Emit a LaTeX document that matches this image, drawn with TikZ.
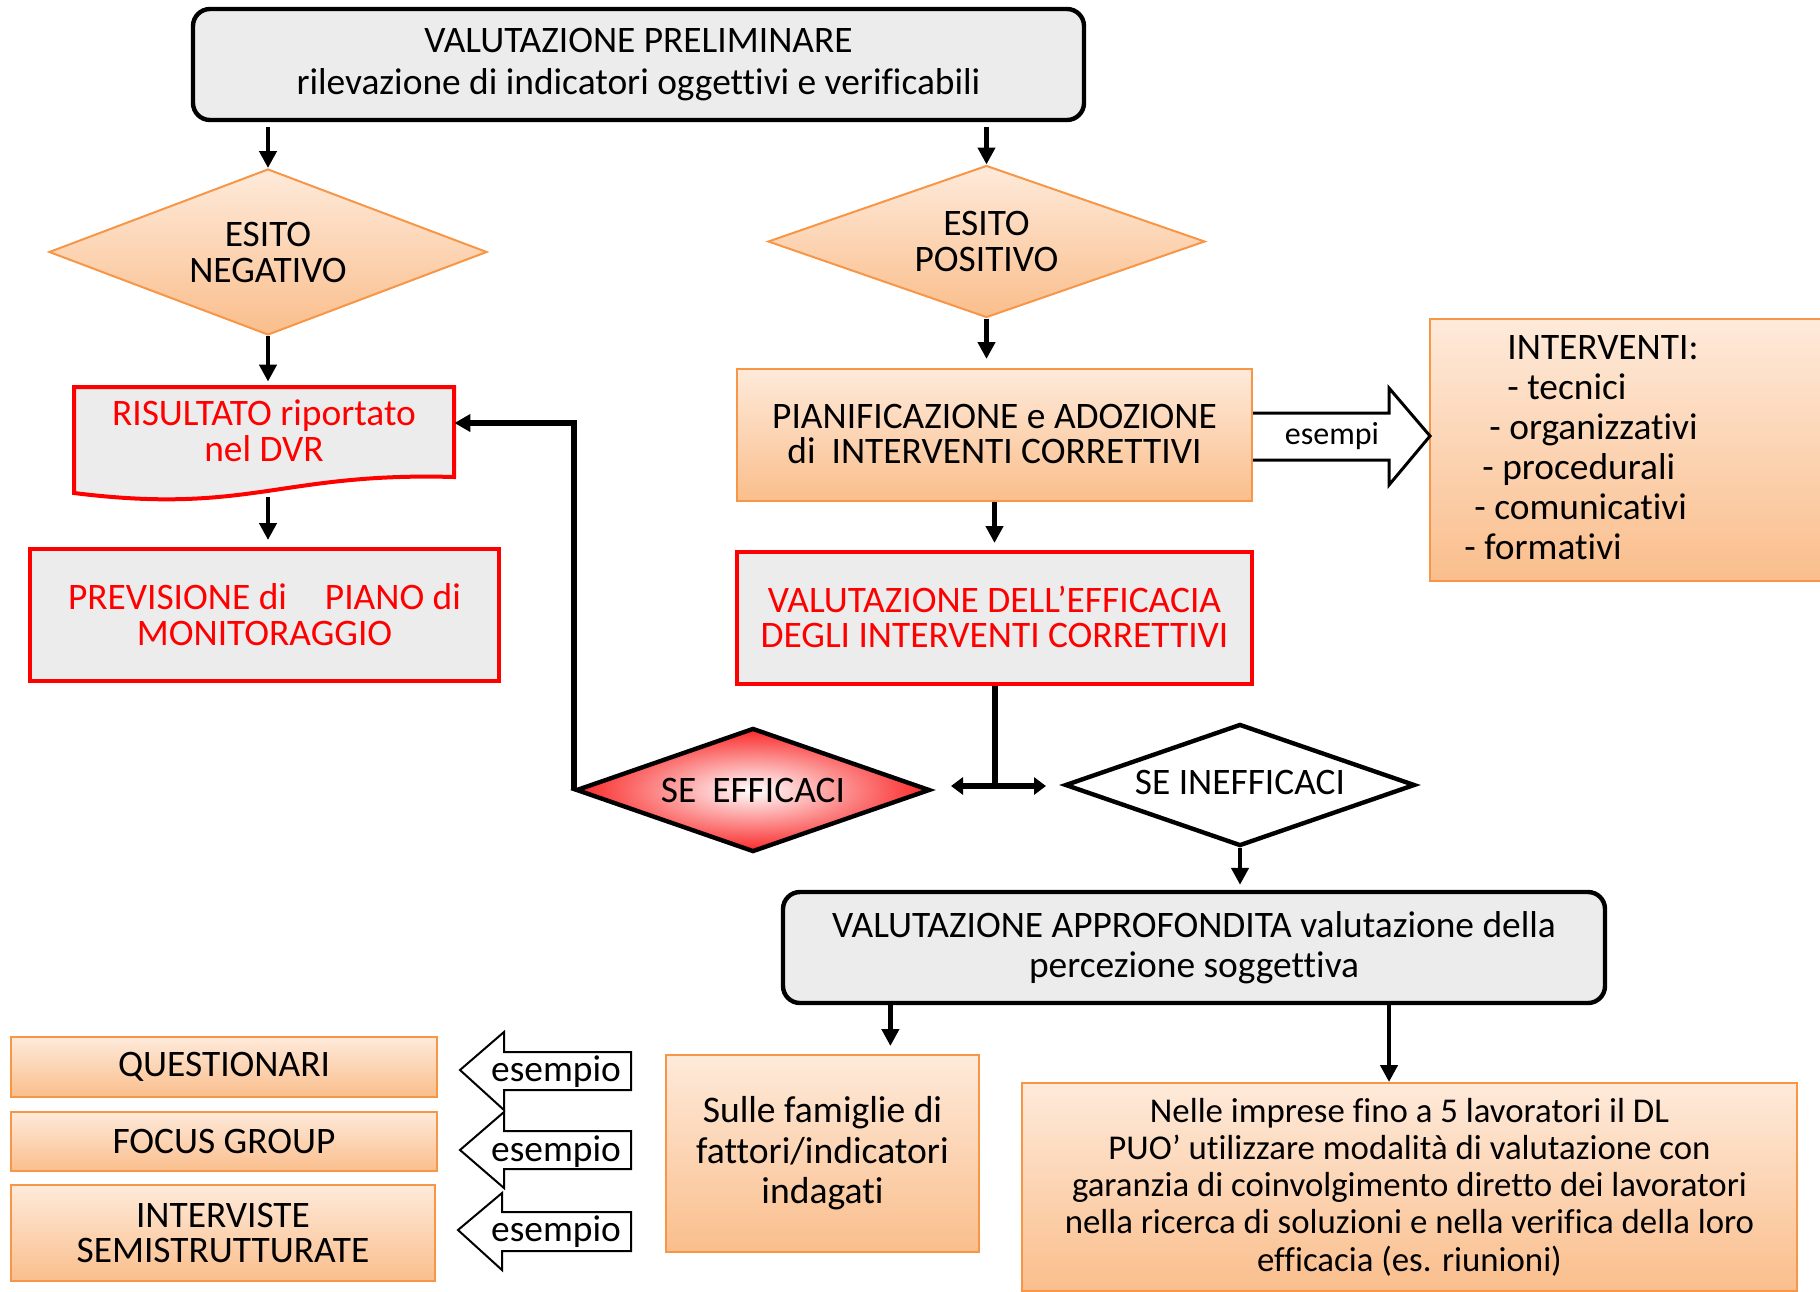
\documentclass[tikz,border=0pt]{standalone}
\usepackage{fontspec}
\setmainfont{Carlito}[Ligatures=NoCommon]
\usetikzlibrary{shapes.geometric,arrows.meta,calc,backgrounds}

\definecolor{orgA}{RGB}{254,234,218}
\definecolor{orgB}{RGB}{250,190,140}
\definecolor{orgLine}{RGB}{247,150,70}
\definecolor{boxgray}{RGB}{236,236,236}
\definecolor{alarm}{RGB}{255,0,0}
\definecolor{hotred}{RGB}{250,40,40}

\newcommand{\fsz}[2]{\fontsize{#1}{#2}\selectfont}

\tikzset{
  orangebox/.style={rectangle, top color=orgA, bottom color=orgB, draw=orgLine,
    line width=1pt, inner sep=0pt, align=center},
  graybox/.style={rectangle, rounded corners=8.5pt, fill=boxgray, draw=black,
    line width=2.2pt, inner sep=0pt, align=center},
  redbox/.style={rectangle, fill=boxgray, draw=alarm, line width=2pt,
    text=alarm, inner sep=0pt, align=center},
  orangediamond/.style={diamond, shape aspect=2.6, top color=orgA, bottom color=orgB,
    draw=orgLine, line width=1pt, inner sep=0pt, align=center},
  choice/.style={diamond, shape aspect=2.9, draw=black, line width=2.2pt,
    inner sep=0pt, align=center},
  flow/.style={line width=2.3pt, -{Triangle[length=8.5pt,width=8.5pt]}},
  heavy/.style={line width=3pt},
  blockarrow/.style={fill=white, draw=black, line width=1.5pt, line join=miter},
  txt/.style={font=\fsz{18.7}{18}},
}

\begin{document}
\begin{tikzpicture}[x=0.5pt, y=-0.5pt]
\useasboundingbox (0,0) rectangle (1820,1291);

% ---- upper part -------------------------------------------------------
\node[graybox, font=\fsz{18.7}{21}, minimum width=445.5pt, minimum height=55.5pt]
  (top) at (638.5,64.5)
  {VALUTAZIONE PRELIMINARE\\rilevazione di indicatori oggettivi e verificabili};

\node[orangediamond, txt, minimum width=219pt, minimum height=83pt] (negd) at (268,252)
  {ESITO\\NEGATIVO};
\node[orangediamond, txt, minimum width=218.5pt, minimum height=76pt] (posd) at (986.5,241.5)
  {ESITO\\POSITIVO};

\draw[flow, shorten <=2.5pt] (negd.north |- top.south) -- (negd.north);
\draw[flow, shorten <=2.5pt] (posd.north |- top.south) -- (posd.north);

% document shape with wavy bottom edge
\node[txt, minimum width=190pt, minimum height=44pt, inner sep=0pt, text=alarm, align=center]
  (ris) at (264,431) {RISULTATO riportato\\nel DVR};
\begin{scope}[on background layer]
  \draw[fill=boxgray, draw=alarm, line width=2pt]
    (74,387) -- (454,387) -- (454,477)
    .. controls (280,472) and (250,515) .. (74,493) -- cycle;
\end{scope}
\coordinate (risbot) at (268,497);
\coordinate (risin) at ($(ris.north east)!0.41!(ris.south east)$);

\draw[flow, shorten >=2.5pt] (negd.south) -- (negd.south |- ris.north);

\node[redbox, txt, minimum width=234.5pt, minimum height=66pt] (prev) at (264.5,615)
  {PREVISIONE di\hspace*{19pt}PIANO di\\MONITORAGGIO};
\draw[flow, shorten >=3.5pt] (risbot) -- (risbot |- prev.north);

% ---- right column -----------------------------------------------------
\node[orangebox, font=\fsz{18.7}{17.5}, minimum width=257.5pt, minimum height=66pt]
  (pian) at (994.5,435)
  {\raisebox{1.5pt}{PIANIFICAZIONE e ADOZIONE}\\\raisebox{1.5pt}{di\hspace*{8pt}INTERVENTI CORRETTIVI}};
\draw[flow, shorten >=4.5pt] (posd.south) -- (posd.south |- pian.north);

\node[redbox, font=\fsz{18.7}{17.5}, minimum width=257.5pt, minimum height=66pt]
  (vef) at (994.5,618)
  {\raisebox{1.5pt}{VALUTAZIONE DELL’EFFICACIA}\\\raisebox{1.5pt}{DEGLI INTERVENTI CORRETTIVI}};
\draw[flow, shorten >=3.5pt] (pian.south) -- (vef.north);

% examples of interventions
\node[rectangle, top color=orgA, bottom color=orgB, minimum width=195pt,
  minimum height=131pt, inner sep=0pt] (intv) at (1625,450) {};
\draw[orgLine, line width=1pt] (1821,319) -- (1430,319) -- (1430,581) -- (1821,581);
\node[anchor=west, inner sep=0pt, align=left, font=\fsz{18.7}{20}] (intvtext) at (1464,448)
  {\hspace*{21.5pt}INTERVENTI:\\
   \hspace*{21.5pt}- tecnici\\
   \hspace*{12.5pt}- organizzativi\\
   \hspace*{9pt}- procedurali\\
   \hspace*{5pt}- comunicativi\\
   - formativi};

\draw[blockarrow] (pian.east |- 0,413) -- (1389,413) -- (1389,388) -- (1430,436)
  -- (1389,485) -- (1389,460) -- (pian.east |- 0,460);
\node[inner sep=0pt, font=\fsz{16}{16}] (esempi) at (1332,436) {esempi};

% ---- outcome of the check --------------------------------------------
\node[choice, txt, minimum width=177pt, minimum height=62pt, inner color=white,
  outer color=hotred] (eff) at (753,790) {\raisebox{-3pt}{SE\hspace*{8pt}EFFICACI}};
\node[choice, txt, fill=white, minimum width=175pt, minimum height=61pt] (ineff) at (1240,785)
  {\raisebox{3pt}{SE INEFFICACI}};

\coordinate (j) at (994.5,786);
\coordinate (dl) at (951,786);
\coordinate (dr) at (1046,786);
\draw[heavy] (vef.south) -- (j);
\draw[heavy, {Triangle[length=6pt,width=8.5pt]}-{Triangle[length=6pt,width=8.5pt]}] (dl) -- (dr);

\draw[heavy, line join=miter, -{Triangle[length=8pt,width=8.5pt]}] (eff.west) |- (risin);

\node[graybox, font=\fsz{18.7}{20}, minimum width=411pt, minimum height=55.5pt]
  (appro) at (1194,947.5)
  {VALUTAZIONE APPROFONDITA valutazione della\\percezione soggettiva};
\draw[flow, shorten >=2.5pt] (ineff.south) -- (ineff.south |- appro.north);

% ---- bottom row -------------------------------------------------------
\node[orangebox, font=\fsz{18.8}{20.3}, minimum width=156.5pt, minimum height=98.5pt]
  (sulle) at (822.5,1153.5)
  {Sulle famiglie di\\fattori/indicatori\\indagati};
\node[orangebox, font=\fsz{17.4}{18.6}, minimum width=387.5pt, minimum height=104pt]
  (nelle) at (1409.5,1187)
  {Nelle imprese fino a 5 lavoratori il DL\\
   PUO’ utilizzare modalità di valutazione con\\
   garanzia di coinvolgimento diretto dei lavoratori\\
   nella ricerca di soluzioni e nella verifica della loro\\
   efficacia (es. riunioni)};

\draw[flow, shorten >=4pt] ($(appro.south west)!0.1326!(appro.south east)$) coordinate (s1)
  -- (s1 |- sulle.north);
\draw[flow] ($(appro.south west)!0.736!(appro.south east)$) coordinate (s2)
  -- (s2 |- nelle.north);

\node[orangebox, txt, minimum width=213pt, minimum height=30pt] (q1) at (224,1067)
  {QUESTIONARI};
\node[orangebox, txt, minimum width=213pt, minimum height=29.5pt] (q2) at (224,1141.5)
  {FOCUS GROUP};
\node[orangebox, font=\fsz{18.7}{17.5}, minimum width=212pt, minimum height=48pt]
  (q3) at (223,1233) {INTERVISTE\\SEMISTRUTTURATE};

\draw[blockarrow, line width=1pt] (631,1052) -- (504,1052) -- (504,1032) -- (460,1070)
  -- (504,1110) -- (504,1090) -- (631,1090) -- cycle;
\draw[blockarrow, line width=1pt] (631,1131) -- (504,1131) -- (504,1112) -- (460,1150)
  -- (504,1188) -- (504,1169) -- (631,1169) -- cycle;
\draw[blockarrow, line width=1pt] (631,1212) -- (502,1212) -- (502,1193) -- (458,1230)
  -- (502,1270) -- (502,1251) -- (631,1251) -- cycle;
\node[inner sep=0pt, txt] (ex1) at (556,1072) {esempio};
\node[inner sep=0pt, txt] (ex2) at (556,1152) {esempio};
\node[inner sep=0pt, txt] (ex3) at (556,1232) {esempio};
\end{tikzpicture}
\end{document}
